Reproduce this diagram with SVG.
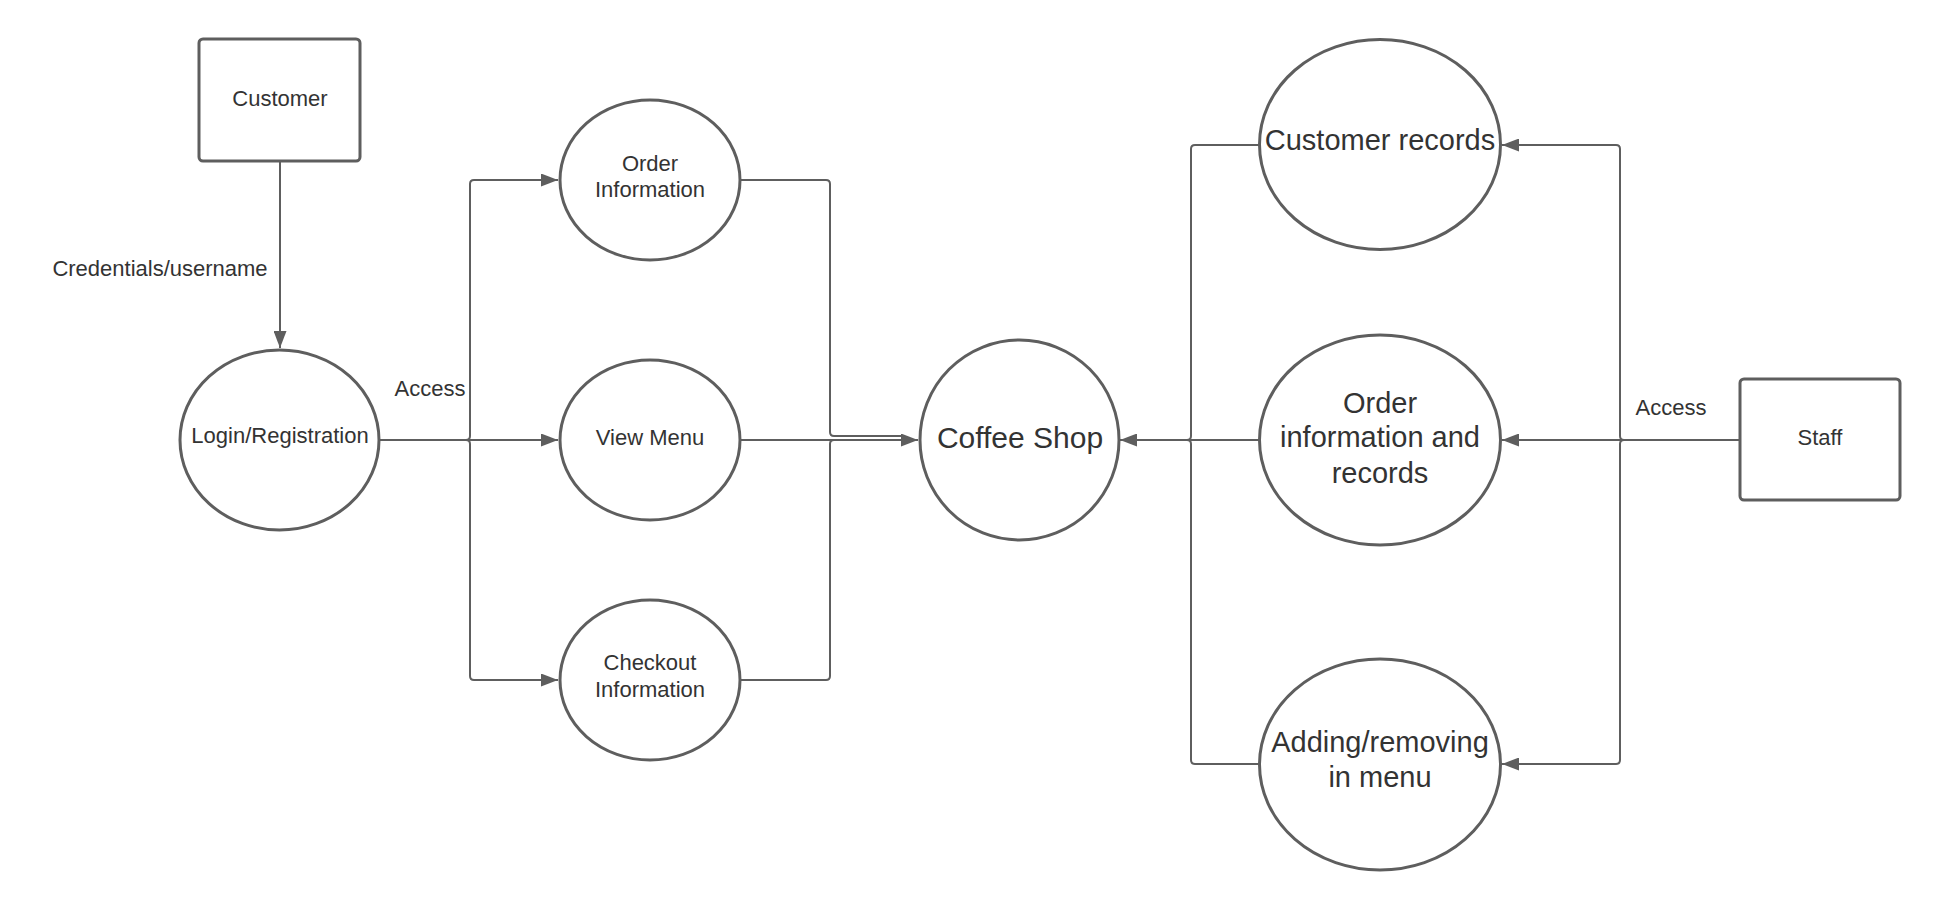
<svg xmlns="http://www.w3.org/2000/svg" width="1940" height="910" viewBox="0 0 1940 910">
<style>
.shape{fill:#ffffff;stroke:#5e5e5e;stroke-width:3}
.conn{fill:none;stroke:#5e5e5e;stroke-width:2;stroke-linejoin:round}
.t{font-family:"Liberation Sans",Arial,sans-serif;fill:#333333;text-anchor:middle;font-size:22px}
.tl{font-family:"Liberation Sans",Arial,sans-serif;fill:#333333;text-anchor:middle;font-size:29px}
.ah{fill:#5e5e5e;stroke:none}
</style>
<defs>
<marker id="arr" markerWidth="18" markerHeight="13" refX="17" refY="6.5" orient="auto" markerUnits="userSpaceOnUse">
<path class="ah" d="M0,0 L17,6.5 L0,13 Z"/>
</marker>
</defs>
<rect width="1940" height="910" fill="#ffffff"/>
<g id="connectors">
<path class="conn" d="M280,161 V348" marker-end="url(#arr)"/>
<path class="conn" d="M379,440 H466 Q470,440 470,436 V184 Q470,180 474,180 H558" marker-end="url(#arr)"/>
<path class="conn" d="M379,440 H558" marker-end="url(#arr)"/>
<path class="conn" d="M379,440 H466 Q470,440 470,444 V676 Q470,680 474,680 H558" marker-end="url(#arr)"/>
<path class="conn" d="M740,180 H826 Q830,180 830,184 V432 Q830,436 834,436 H902"/>
<path class="conn" d="M740,440 H918" marker-end="url(#arr)"/>
<path class="conn" d="M740,680 H826 Q830,680 830,676 V444 Q830,440 834,440 H902"/>
<path class="conn" d="M1259,145 H1195 Q1191,145 1191,149 V436 Q1191,440 1187,440 H1138"/>
<path class="conn" d="M1259,440 H1120" marker-end="url(#arr)"/>
<path class="conn" d="M1259,764 H1195 Q1191,764 1191,760 V444 Q1191,440 1187,440 H1138"/>
<path class="conn" d="M1740,440 H1624 Q1620,440 1620,436 V149 Q1620,145 1616,145 H1502" marker-end="url(#arr)"/>
<path class="conn" d="M1740,440 H1502" marker-end="url(#arr)"/>
<path class="conn" d="M1740,440 H1624 Q1620,440 1620,444 V760 Q1620,764 1616,764 H1502" marker-end="url(#arr)"/>
<text class="t" x="160" y="276">Credentials/username</text>
<text class="t" x="430" y="396">Access</text>
<text class="t" x="1671" y="415">Access</text>
</g>
<g id="customer">
<rect class="shape" x="199" y="39" width="161" height="122" rx="4"/>
<text class="t" x="280" y="106">Customer</text>
</g>
<g id="login">
<ellipse class="shape" cx="279.5" cy="440" rx="99.5" ry="90"/>
<text class="t" x="280" y="443">Login/Registration</text>
</g>
<g id="order-information">
<ellipse class="shape" cx="650" cy="180" rx="90" ry="80"/>
<text class="t" x="650" y="171">Order</text>
<text class="t" x="650" y="197">Information</text>
</g>
<g id="view-menu">
<ellipse class="shape" cx="650" cy="440" rx="90" ry="80"/>
<text class="t" x="650" y="445">View Menu</text>
</g>
<g id="checkout-information">
<ellipse class="shape" cx="650" cy="680" rx="90" ry="80"/>
<text class="t" x="650" y="670">Checkout</text>
<text class="t" x="650" y="697">Information</text>
</g>
<g id="coffee-shop">
<ellipse class="shape" cx="1019.5" cy="440" rx="99.5" ry="100"/>
<text class="tl" x="1020" y="448" style="font-size:30px">Coffee Shop</text>
</g>
<g id="customer-records">
<ellipse class="shape" cx="1380" cy="144.5" rx="120.5" ry="105"/>
<text class="tl" x="1380" y="150">Customer records</text>
</g>
<g id="order-information-records">
<ellipse class="shape" cx="1380" cy="440" rx="120.5" ry="105"/>
<text class="tl" x="1380" y="413">Order</text>
<text class="tl" x="1380" y="447">information and</text>
<text class="tl" x="1380" y="483">records</text>
</g>
<g id="adding-removing">
<ellipse class="shape" cx="1380" cy="764.5" rx="120.5" ry="105.5"/>
<text class="tl" x="1380" y="752">Adding/removing</text>
<text class="tl" x="1380" y="787">in menu</text>
</g>
<g id="staff">
<rect class="shape" x="1740" y="379" width="160" height="121" rx="4"/>
<text class="t" x="1820" y="445">Staff</text>
</g>
</svg>
